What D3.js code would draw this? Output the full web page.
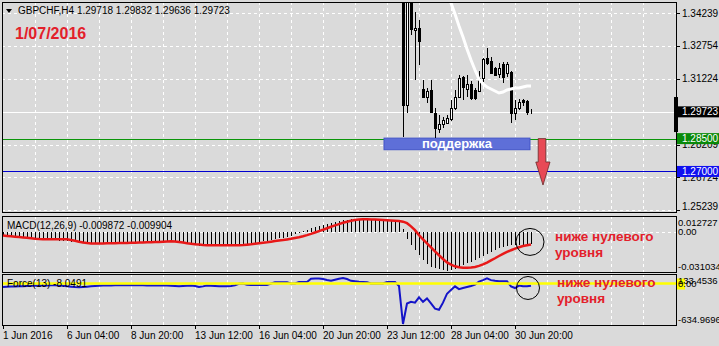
<!DOCTYPE html>
<html lang="ru">
<head>
<meta charset="utf-8">
<title>GBPCHF H4</title>
<script src="https://cdnjs.cloudflare.com/ajax/libs/d3/7.8.5/d3.min.js"></script>
<style>
  body { margin: 0; background: #dadada; }
  svg { display: block; font-family: "Liberation Sans", Arial, sans-serif; }
</style>
</head>
<body>
<div id="chart"></div>
<script>
// ---- data ----
const headerText = "GBPCHF,H4  1.29718 1.29832 1.29636 1.29723";
const dateTitle = "1/07/2016";

// bar index of each x-axis label (4h bars)
const timeIdx = [0, 16, 32, 48, 64, 80, 96, 112, 128];
const timeLabels = ["1 Jun 2016", "6 Jun 04:00", "8 Jun 20:00", "13 Jun 12:00", "16 Jun 04:00",
                    "20 Jun 20:00", "23 Jun 12:00", "28 Jun 04:00", "30 Jun 20:00"];

const priceTicks = [1.34239, 1.32754, 1.31224, 1.29724, 1.28209, 1.26724, 1.25239];

// candles from bar 100 on (earlier bars are above the visible price range)
const candleStart = 100;
const candleOpen  = [1.4260, 1.30036, 1.3560, 1.33462, 1.33554, 1.30767, 1.30402, 1.30722, 1.29671, 1.28940,
                     1.29169, 1.29214, 1.29397, 1.29899, 1.30402, 1.31315, 1.30767, 1.30996, 1.30722, 1.30676,
                     1.31270, 1.32183, 1.32046, 1.31727, 1.31452, 1.31909, 1.31498, 1.31544, 1.29671, 1.29899,
                     1.30265, 1.30219, 1.29718];
const candleHigh  = [1.4300, 1.3620, 1.3620, 1.34285, 1.33919, 1.31178, 1.30813, 1.31178, 1.29899, 1.29580,
                     1.29488, 1.29580, 1.30265, 1.30722, 1.31407, 1.31361, 1.31407, 1.31133, 1.30813, 1.31590,
                     1.32183, 1.32640, 1.32229, 1.31772, 1.31955, 1.32001, 1.32001, 1.31590, 1.30265, 1.30310,
                     1.30310, 1.30265, 1.29832];
const candleLow   = [1.28574, 1.29671, 1.33234, 1.31178, 1.31864, 1.30356, 1.30128, 1.29671, 1.28529, 1.28757,
                     1.28986, 1.29169, 1.29306, 1.29808, 1.30356, 1.30265, 1.30402, 1.30265, 1.30265, 1.30630,
                     1.31087, 1.31864, 1.31452, 1.31361, 1.31270, 1.31041, 1.31315, 1.29214, 1.29351, 1.29808,
                     1.29991, 1.29580, 1.29636];
const candleClose = [1.30036, 1.3560, 1.33508, 1.33554, 1.32960, 1.30402, 1.30676, 1.29717, 1.28986, 1.29169,
                     1.29351, 1.29443, 1.29899, 1.30402, 1.31270, 1.30859, 1.30996, 1.30356, 1.30356, 1.31270,
                     1.32138, 1.31955, 1.31498, 1.31407, 1.31727, 1.31315, 1.31909, 1.29671, 1.29899, 1.30173,
                     1.30173, 1.29717, 1.29723];

// white moving average, from bar 111
const maStart = 111;
const maValues = [1.35198, 1.34696, 1.34193, 1.33645, 1.33143, 1.32595, 1.32092, 1.31635, 1.31224, 1.30996,
                  1.30859, 1.30767, 1.30676, 1.30585, 1.30630, 1.30722, 1.30767, 1.30813, 1.30813, 1.30859,
                  1.30904, 1.30904];

const bidPrice = 1.29723;
const supportLevel = 1.28500;
const targetLevel = 1.27000;

// MACD(12,26,9), bars 0..132
const macdMain = [
  -0.0030,-0.0034,-0.0038,-0.0041,-0.0044,-0.0047,-0.0050,-0.0052,-0.0054,-0.0056,
  -0.0059,-0.0062,-0.0064,-0.0066,-0.0069,-0.0071,-0.0074,-0.0077,-0.0080,-0.0084,
  -0.0088,-0.0092,-0.0095,-0.0096,-0.0094,-0.0093,-0.0091,-0.0090,-0.0089,-0.0088,
  -0.0086,-0.0085,-0.0084,-0.0083,-0.0081,-0.0079,-0.0078,-0.0076,-0.0074,-0.0072,
  -0.0070,-0.0069,-0.0068,-0.0074,-0.0082,-0.0090,-0.0096,-0.0101,-0.0105,-0.0108,
  -0.0111,-0.0112,-0.0113,-0.0113,-0.0112,-0.0111,-0.0110,-0.0109,-0.0108,-0.0107,
  -0.0104,-0.0099,-0.0093,-0.0087,-0.0080,-0.0074,-0.0068,-0.0063,-0.0057,-0.0051,
  -0.0044,-0.0036,-0.0028,-0.0018,-0.0006, 0.0005, 0.0017, 0.0029, 0.0039, 0.0048,
   0.0057, 0.0065, 0.0073, 0.0080, 0.0087, 0.0093, 0.0098, 0.0101, 0.0103, 0.0104,
   0.0104, 0.0103, 0.0102, 0.0101, 0.0099, 0.0097, 0.0095, 0.0093, 0.0090, 0.0082,
   0.0020,-0.0055,-0.0105,-0.0145,-0.0185,-0.0220,-0.0255,-0.0278,-0.0290,-0.0298,
  -0.0304,-0.0307,-0.0303,-0.0293,-0.0278,-0.0262,-0.0248,-0.0238,-0.0223,-0.0207,
  -0.0192,-0.0175,-0.0158,-0.0142,-0.0128,-0.0118,-0.0110,-0.0104,-0.0101,-0.0100,
  -0.0101,-0.0100,-0.009872];
const macdSignal = [
  -0.0028,-0.0031,-0.0034,-0.0037,-0.0040,-0.0043,-0.0046,-0.0049,-0.0053,-0.0056,
  -0.0057,-0.0058,-0.0058,-0.0058,-0.0058,-0.0057,-0.0058,-0.0063,-0.0070,-0.0077,
  -0.0083,-0.0088,-0.0091,-0.0092,-0.0092,-0.0091,-0.0090,-0.0089,-0.0089,-0.0088,
  -0.0088,-0.0087,-0.0086,-0.0085,-0.0084,-0.0083,-0.0082,-0.0081,-0.0080,-0.0079,
  -0.0077,-0.0075,-0.0074,-0.0075,-0.0079,-0.0084,-0.0089,-0.0093,-0.0097,-0.0100,
  -0.0103,-0.0105,-0.0106,-0.0106,-0.0106,-0.0106,-0.0106,-0.0105,-0.0105,-0.0105,
  -0.0104,-0.0101,-0.0098,-0.0094,-0.0090,-0.0086,-0.0082,-0.0077,-0.0072,-0.0068,
  -0.0064,-0.0059,-0.0054,-0.0048,-0.0042,-0.0034,-0.0025,-0.0015,-0.0004, 0.0007,
   0.0018, 0.0030, 0.0042, 0.0053, 0.0063, 0.0073, 0.0082, 0.0090, 0.0096, 0.0100,
   0.0101, 0.0101, 0.0100, 0.0099, 0.0098, 0.0096, 0.0094, 0.0092, 0.0090, 0.0087,
   0.0082, 0.0070, 0.0045, 0.0015,-0.0025,-0.0058,-0.0090,-0.0122,-0.0155,-0.0185,
  -0.0215,-0.0242,-0.0260,-0.0273,-0.0281,-0.0284,-0.0284,-0.0282,-0.0278,-0.0270,
  -0.0258,-0.0243,-0.0226,-0.0209,-0.0191,-0.0174,-0.0159,-0.0145,-0.0132,-0.0121,
  -0.0112,-0.0105,-0.009904];
const macdTicks = [0.012727, 0, -0.031034];
const macdTickLabels = ["0.012727", "0.00", "-0.031034"];

// Force(13), bars 0..132
const force = [
  -55,-52,-48,-45,-44,-42,-40,-37,-34,-33,
  -31,-30,-28,-28,-30,-36,-44,-50,-56,-60,
  -55,-50,-44,-40,-36,-33,-31,-30,-29,-28,
  -28,-28,-28,-28,-28,-29,-31,-33,-33,-33,
  -33,-33,-36,-40,-44,-40,-36,-33,-40,-55,
  -45,-33,-36,-40,-44,-44,-44,-40,-28,-5,
    0,-20,-22,-22,-22,-22,-22,  0, 20, 20,
   20, 20,  0,  0, 22, 22, 22, 75, 78, 80,
   70, 55, 42, 60, 75, 86, 70, 42, 35, 27,
   24, 20,  0,  0,  0,  0, 25, 25, 25,-40,
  -634.97,-313,-287,-300,-216,-287,-233,-313,-395,-411,
  -300,-160,-100,-44,-88,-71,-55,-40,-17, 30,
   53, 80, 53, 42, 37, 37, 37,-44,-71,-33,
  -44,-44,-35];
const forceTicks = [133.4536, 0, -634.9696];
const forceTickLabels = ["133.4536", "0.00", "-634.9696"];

// ---- layout ----
const W = 719, H = 346;
const left = 2, right = 676;
const mainTop = 2, mainBottom = 212;
const macdTop = 216, macdBottom = 272;
const forceTop = 274, forceBottom = 325;

const svg = d3.select("#chart").append("svg").attr("width", W).attr("height", H);
svg.append("rect").attr("width", W).attr("height", H).attr("fill", "#dadada");

const x = d3.scaleLinear().domain([0, 168]).range([3, 675]);
const yPrice = d3.scaleLinear().domain([1.25239, 1.34239]).range([210, 13]);
const yMacd = d3.scaleLinear().domain([-0.031034, 0.012727]).range([271, 216]);
const yForce = d3.scaleLinear().domain([-634.9696, 133.4536]).range([324, 275]);
const px = v => Math.round(v) + 0.5;

svg.append("clipPath").attr("id", "clipMain")
  .append("rect").attr("x", left).attr("y", mainTop).attr("width", right - left).attr("height", mainBottom - mainTop);

// vertical dashed grid in each panel
const gridIdx = d3.range(8, 168, 8);
[[mainTop, mainBottom], [macdTop, macdBottom], [forceTop, forceBottom]].forEach(([t, b]) => {
  svg.append("g").selectAll("line").data(gridIdx).join("line")
    .attr("x1", d => px(x(d))).attr("x2", d => px(x(d)))
    .attr("y1", t).attr("y2", b)
    .attr("stroke", "#fff").attr("stroke-dasharray", "3,3");
});

// horizontal price grid
svg.append("g").selectAll("line").data(priceTicks).join("line")
  .attr("x1", left).attr("x2", right)
  .attr("y1", d => px(yPrice(d))).attr("y2", d => px(yPrice(d)))
  .attr("stroke", "#fff").attr("stroke-dasharray", "3,3");

// MACD zero level
svg.append("line").attr("x1", left).attr("x2", right)
  .attr("y1", px(yMacd(0))).attr("y2", px(yMacd(0)))
  .attr("stroke", "#fff").attr("stroke-dasharray", "3,3");

const main = svg.append("g").attr("clip-path", "url(#clipMain)");

// bid line, support and target levels
main.append("line").attr("x1", left).attr("x2", right)
  .attr("y1", px(yPrice(bidPrice))).attr("y2", px(yPrice(bidPrice))).attr("stroke", "#fff");
main.append("line").attr("x1", left).attr("x2", right)
  .attr("y1", px(yPrice(supportLevel))).attr("y2", px(yPrice(supportLevel))).attr("stroke", "#0a960a");
main.append("line").attr("x1", left).attr("x2", right)
  .attr("y1", px(yPrice(targetLevel))).attr("y2", px(yPrice(targetLevel))).attr("stroke", "#0000d0");

// support label box
const boxFrom = 95.25, boxTo = 131.75, boxBottom = 1.2797;
main.append("rect")
  .attr("x", x(boxFrom)).attr("y", yPrice(supportLevel) - 0.5)
  .attr("width", x(boxTo) - x(boxFrom)).attr("height", yPrice(boxBottom) - yPrice(supportLevel))
  .attr("fill", "#5e6fd8").attr("stroke", "#4355c8");
main.append("text").attr("x", x((boxFrom + boxTo) / 2)).attr("y", yPrice(boxBottom) - 2)
  .attr("text-anchor", "middle").attr("font-size", 13).attr("font-weight", "bold")
  .attr("fill", "#fff").text("поддержка");

// candles
const candles = candleOpen.map((o, k) => ({
  i: candleStart + k, o, h: candleHigh[k], l: candleLow[k], c: candleClose[k]
}));
const cg = main.append("g").attr("shape-rendering", "crispEdges");
cg.selectAll("line").data(candles).join("line")
  .attr("x1", d => x(d.i) + 0.5).attr("x2", d => x(d.i) + 0.5)
  .attr("y1", d => yPrice(d.h)).attr("y2", d => yPrice(d.l))
  .attr("stroke", "#000");
cg.selectAll("rect").data(candles).join("rect")
  .attr("x", d => x(d.i) - 0.5).attr("width", 2)
  .attr("y", d => Math.round(yPrice(Math.max(d.o, d.c))) + 0.5)
  .attr("height", d => Math.max(0, Math.round(Math.abs(yPrice(d.o) - yPrice(d.c)))))
  .attr("fill", d => d.c >= d.o ? "#fff" : "#000").attr("stroke", "#000");

// moving average
main.append("path")
  .datum(maValues)
  .attr("d", d3.line().x((d, k) => x(maStart + k)).y(d => yPrice(d)))
  .attr("fill", "none").attr("stroke", "#fff").attr("stroke-width", 3);

// red arrow down from support
const arrowTip = 1.2638, arrowNeck = 1.2743;
const ay = yPrice(supportLevel), an = yPrice(arrowNeck), at = yPrice(arrowTip);
svg.append("path")
  .attr("d", `M${x(133.8)},${ay} L${x(135.7)},${ay} L${x(135.7)},${an} L${x(136.75)},${an}
              L${x(135)},${at} L${x(133.2)},${an} L${x(133.8)},${an} Z`)
  .attr("fill", "#e84a56").attr("stroke", "#6b2a2a").attr("stroke-width", 0.8);

// MACD histogram and signal
svg.append("g").attr("shape-rendering", "crispEdges")
  .selectAll("line").data(macdMain).join("line")
  .attr("x1", (d, i) => x(i) + 0.5).attr("x2", (d, i) => x(i) + 0.5)
  .attr("y1", yMacd(0)).attr("y2", d => yMacd(d))
  .attr("stroke", "#000");
svg.append("path").datum(macdSignal)
  .attr("d", d3.line().x((d, i) => x(i)).y(d => yMacd(d)))
  .attr("fill", "none").attr("stroke", "#e81818").attr("stroke-width", 2.5);

// Force index
svg.append("path").datum(force)
  .attr("d", d3.line().x((d, i) => x(i)).y(d => yForce(d)))
  .attr("fill", "none").attr("stroke", "#1414c8").attr("stroke-width", 2);
svg.append("line").attr("x1", left).attr("x2", right)
  .attr("y1", yForce(0)).attr("y2", yForce(0))
  .attr("stroke", "#ffff00").attr("stroke-width", 2.5);

// panel borders
[[mainTop, mainBottom], [macdTop, macdBottom], [forceTop, forceBottom]].forEach(([t, b]) => {
  svg.append("rect").attr("x", left + 0.5).attr("y", t + 0.5)
    .attr("width", right - left).attr("height", b - t)
    .attr("fill", "none").attr("stroke", "#000");
});

// right price axis
const axisX = right + 6;
const labelY = (y, t, b) => Math.min(Math.max(y, t + 6), b - 6) + 3.5;
svg.append("g").selectAll("text").data(priceTicks).join("text")
  .attr("x", axisX).attr("y", d => labelY(yPrice(d), mainTop, mainBottom))
  .attr("font-size", 10).text(d => d.toFixed(5));
svg.append("g").selectAll("line").data(priceTicks).join("line")
  .attr("x1", right + 1).attr("x2", right + 4)
  .attr("y1", d => px(yPrice(d))).attr("y2", d => px(yPrice(d))).attr("stroke", "#000");

// price tags
function tag(v, fill) {
  const y = yPrice(v);
  svg.append("rect").attr("x", right + 1).attr("y", y - 5.5).attr("width", W - right).attr("height", 11).attr("fill", fill);
  svg.append("text").attr("x", axisX).attr("y", y + 3.5).attr("font-size", 10).attr("fill", "#fff").text(v.toFixed(5));
}
svg.append("rect").attr("x", right - 2).attr("width", 4)
  .attr("y", yPrice(1.3040)).attr("height", yPrice(1.2880) - yPrice(1.3040)).attr("fill", "#000");
tag(bidPrice, "#000");
tag(supportLevel, "#0a8a0a");
tag(targetLevel, "#1010f0");

// indicator axes
svg.append("rect").attr("x", right + 1).attr("y", yForce(0) - 5).attr("width", 8).attr("height", 11).attr("fill", "#ffff00");
svg.append("g").selectAll("text").data(macdTicks).join("text")
  .attr("x", right + 2).attr("y", d => labelY(yMacd(d), macdTop, macdBottom))
  .attr("font-size", 9.5).text((d, i) => macdTickLabels[i]);
svg.append("g").selectAll("text").data(forceTicks).join("text")
  .attr("x", right + 2).attr("y", d => labelY(yForce(d), forceTop, forceBottom))
  .attr("font-size", 9.5).text((d, i) => forceTickLabels[i]);

// time axis
svg.append("g").selectAll("line").data(timeIdx).join("line")
  .attr("x1", d => x(d) + 0.5).attr("x2", d => x(d) + 0.5)
  .attr("y1", forceBottom).attr("y2", forceBottom + 4).attr("stroke", "#000");
svg.append("g").selectAll("text").data(timeIdx).join("text")
  .attr("x", d => x(d)).attr("y", 339).attr("font-size", 10)
  .text((d, i) => timeLabels[i]);

// indicator captions
svg.append("text").attr("x", 7).attr("y", 229).attr("font-size", 10).text("MACD(12,26,9) -0.009872 -0.009904");
svg.append("text").attr("x", 7).attr("y", 287).attr("font-size", 10).text("Force(13) -8.0491");

// circles and notes
svg.append("ellipse").attr("cx", x(131.75)).attr("cy", yMacd(-0.0079)).attr("rx", 14).attr("ry", 13.5)
  .attr("fill", "none").attr("stroke", "#000");
svg.append("ellipse").attr("cx", x(131.25)).attr("cy", yForce(-70)).attr("rx", 11.5).attr("ry", 11.5)
  .attr("fill", "none").attr("stroke", "#000");
[[555, 241, 257], [557, 287, 303]].forEach(([tx, y1, y2]) => {
  const t = svg.append("text").attr("font-size", 13.5).attr("font-weight", "bold").attr("fill", "#e3202a");
  t.append("tspan").attr("x", tx).attr("y", y1).text("ниже нулевого");
  t.append("tspan").attr("x", tx).attr("y", y2).text("уровня");
});

// header
svg.append("path").attr("d", "M6,9 L12,9 L9,13 Z").attr("fill", "#000");
svg.append("text").attr("x", 18).attr("y", 14).attr("font-size", 10).text(headerText);
svg.append("text").attr("x", 15).attr("y", 39).attr("font-size", 16).attr("font-weight", "bold")
  .attr("fill", "#e3202a").text(dateTitle);
</script>
</body>
</html>
